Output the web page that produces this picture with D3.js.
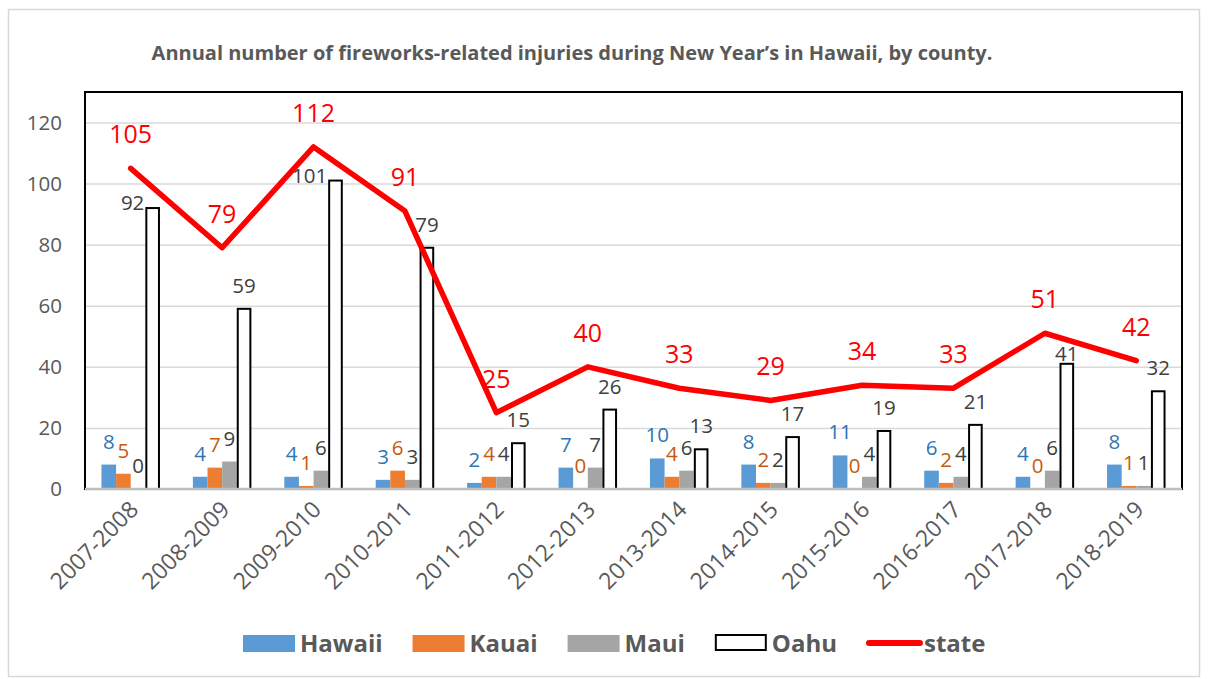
<!DOCTYPE html>
<html>
<head>
<meta charset="utf-8">
<script src="https://cdn.jsdelivr.net/npm/d3@7"></script>
<style>
  html, body { margin: 0; padding: 0; background: #fff; }
  svg { display: block; font-family: "Open Sans", sans-serif; }
</style>
</head>
<body>
<div id="chart"></div>
<script>
// ---- data ----
const seasons = ["2007-2008", "2008-2009", "2009-2010", "2010-2011", "2011-2012", "2012-2013",
                 "2013-2014", "2014-2015", "2015-2016", "2016-2017", "2017-2018", "2018-2019"];
const hawaii = [8, 4, 4, 3, 2, 7, 10, 8, 11, 6, 4, 8];
const kauai  = [5, 7, 1, 6, 4, 0, 4, 2, 0, 2, 0, 1];
const maui   = [0, 9, 6, 3, 4, 7, 6, 2, 4, 4, 6, 1];
const oahu   = [92, 59, 101, 79, 15, 26, 13, 17, 19, 21, 41, 32];
const state  = [105, 79, 112, 91, 25, 40, 33, 29, 34, 33, 51, 42];
const yTicks = [0, 20, 40, 60, 80, 100, 120];
const countyNames = ["Hawaii", "Kauai", "Maui", "Oahu"];

const title = "Annual number of fireworks-related injuries during New Year\u2019s in Hawaii, by county.";

// ---- layout ----
const width = 1209, height = 679;
const plot = { left: 85, right: 1182, top: 92, bottom: 489 };
const textGrey = "#595959";

const series = [
  { name: "Hawaii", values: hawaii, fill: "#5B9BD5", stroke: "none", label: "#2E75B6" },
  { name: "Kauai",  values: kauai,  fill: "#ED7D31", stroke: "none", label: "#C55A11" },
  { name: "Maui",   values: maui,   fill: "#A5A5A5", stroke: "none", label: "#404040" },
  { name: "Oahu",   values: oahu,   fill: "#FFFFFF", stroke: "#000000", label: "#404040" }
];

const svg = d3.select("#chart").append("svg")
  .attr("width", width)
  .attr("height", height);

// outer chart border
svg.append("rect")
  .attr("x", 8.5).attr("y", 9.5)
  .attr("width", 1191).attr("height", 667)
  .attr("fill", "none")
  .attr("stroke", "#d9d9d9")
  .attr("stroke-width", 1.5);

svg.append("text")
  .attr("x", 572).attr("y", 60)
  .attr("text-anchor", "middle")
  .attr("font-size", 20)
  .attr("font-weight", "bold")
  .attr("fill", textGrey)
  .text(title);

const x = d3.scaleBand().domain(seasons).range([plot.left, plot.right]);
const bw = x.bandwidth();
const x1 = d3.scaleBand().domain(countyNames).range([bw * 0.18, bw * 0.82]);
const y = d3.scaleLinear().domain([0, 130]).range([plot.bottom, plot.top]);

// gridlines + y labels
const yAxis = d3.axisLeft(y).tickValues(yTicks).tickSize(-(plot.right - plot.left)).tickPadding(23);
const yG = svg.append("g").attr("transform", `translate(${plot.left},0)`).call(yAxis);
yG.select(".domain").remove();
yG.selectAll(".tick line").attr("stroke", "#d9d9d9").attr("stroke-width", 1.5);
yG.selectAll(".tick text")
  .attr("font-size", 20.5)
  .attr("font-family", "Open Sans, sans-serif")
  .attr("fill", textGrey);

// plot frame
svg.append("rect")
  .attr("x", plot.left).attr("y", plot.top)
  .attr("width", plot.right - plot.left)
  .attr("height", plot.bottom - plot.top)
  .attr("fill", "none")
  .attr("stroke", "#000")
  .attr("stroke-width", 2);

// bars
const groups = svg.append("g").selectAll("g.season")
  .data(seasons)
  .join("g")
  .attr("class", "season")
  .attr("transform", d => `translate(${x(d)},0)`);

groups.selectAll("rect")
  .data((d, i) => series.map(s => ({ s, v: s.values[i] })))
  .join("rect")
  .attr("x", d => x1(d.s.name) + (d.s.stroke !== "none" ? 1 : 0))
  .attr("width", d => x1.bandwidth() - (d.s.stroke !== "none" ? 2 : 0))
  .attr("y", d => y(d.v))
  .attr("height", d => y(0) - y(d.v))
  .attr("fill", d => d.s.fill)
  .attr("stroke", d => d.s.stroke)
  .attr("stroke-width", 2);

// x axis baseline
svg.append("line")
  .attr("x1", plot.left).attr("x2", plot.right)
  .attr("y1", plot.bottom).attr("y2", plot.bottom)
  .attr("stroke", "#bfbfbf")
  .attr("stroke-width", 2.5);

// x tick labels, rotated
svg.append("g").selectAll("text")
  .data(seasons)
  .join("text")
  .attr("transform", d => `translate(${x(d) + bw / 2 + 9},${plot.bottom + 22}) rotate(-45)`)
  .attr("text-anchor", "end")
  .attr("font-size", 23)
  .attr("fill", textGrey)
  .text(d => d);

// state line, px positions
const statePts = state.map((v, i) => [x(seasons[i]) + bw / 2, y(v)]);
const lineYAt = px => {
  for (let k = 0; k < statePts.length - 1; k++) {
    const [ax, ay] = statePts[k], [bx, by] = statePts[k + 1];
    if (px >= ax && px <= bx) return ay + (by - ay) * (px - ax) / (bx - ax);
  }
  return null;
};
const hitsLine = (px, baseline) => {
  const ly = lineYAt(px);
  return ly !== null && ly + 3 > baseline - 17 && ly - 3 < baseline + 2;
};

// bar labels: above the bar; if the state line runs through, drop onto the bar top,
// and if it still hits, put the label beside the bar on the left
const labelPos = d => {
  const cx = x1(d.s.name) + x1.bandwidth() / 2;
  const px = x(d.season) + cx;
  const top = y(d.v);
  if (!hitsLine(px, top - 16)) return { x: cx, y: top - 16, anchor: "middle" };
  if (!hitsLine(px, top - 3)) return { x: cx, y: top - 3, anchor: "middle" };
  return { x: x1(d.s.name) - 1, y: top + 2, anchor: "end" };
};

groups.selectAll("text.bar-label")
  .data((d, i) => series.map(s => ({ s, v: s.values[i], season: d })))
  .join("text")
  .attr("class", "bar-label")
  .each(function (d) { d.pos = labelPos(d); })
  .attr("x", d => d.pos.x)
  .attr("y", d => d.pos.y)
  .attr("text-anchor", d => d.pos.anchor)
  .attr("font-size", 20.5)
  .attr("fill", d => d.s.label)
  .text(d => d.v);

const line = d3.line()
  .x((d, i) => x(seasons[i]) + bw / 2)
  .y(d => y(d));

svg.append("path")
  .datum(state)
  .attr("d", line)
  .attr("fill", "none")
  .attr("stroke", "#FF0000")
  .attr("stroke-width", 5.5)
  .attr("stroke-linejoin", "round")
  .attr("stroke-linecap", "round");

svg.append("g").selectAll("text")
  .data(state)
  .join("text")
  .attr("x", (d, i) => x(seasons[i]) + bw / 2)
  .attr("y", d => y(d) - 25)
  .attr("text-anchor", "middle")
  .attr("font-size", 25)
  .attr("fill", "#FF0000")
  .text(d => d);

// legend
const legendItems = series.map(s => ({ name: s.name, type: "rect", fill: s.fill, stroke: s.stroke }))
  .concat([{ name: "state", type: "line", stroke: "#FF0000" }]);

const legend = svg.append("g").attr("transform", "translate(243,643)");
let lx = 0;
legendItems.forEach(item => {
  const g = legend.append("g").attr("transform", `translate(${lx},0)`);
  if (item.type === "rect") {
    g.append("rect")
      .attr("x", item.stroke !== "none" ? 1 : 0)
      .attr("y", -8)
      .attr("width", item.stroke !== "none" ? 50 : 52)
      .attr("height", item.stroke !== "none" ? 15 : 17)
      .attr("fill", item.fill)
      .attr("stroke", item.stroke)
      .attr("stroke-width", 2);
  } else {
    g.append("line")
      .attr("x1", 2).attr("x2", 53)
      .attr("y1", 0).attr("y2", 0)
      .attr("stroke", item.stroke)
      .attr("stroke-width", 6)
      .attr("stroke-linecap", "round");
  }
  const t = g.append("text")
    .attr("x", 57)
    .attr("y", 8.5)
    .attr("font-size", 24)
    .attr("font-weight", "bold")
    .attr("fill", textGrey)
    .text(item.name);
  lx += 57 + t.node().getComputedTextLength() + 30;
});
</script>
</body>
</html>
